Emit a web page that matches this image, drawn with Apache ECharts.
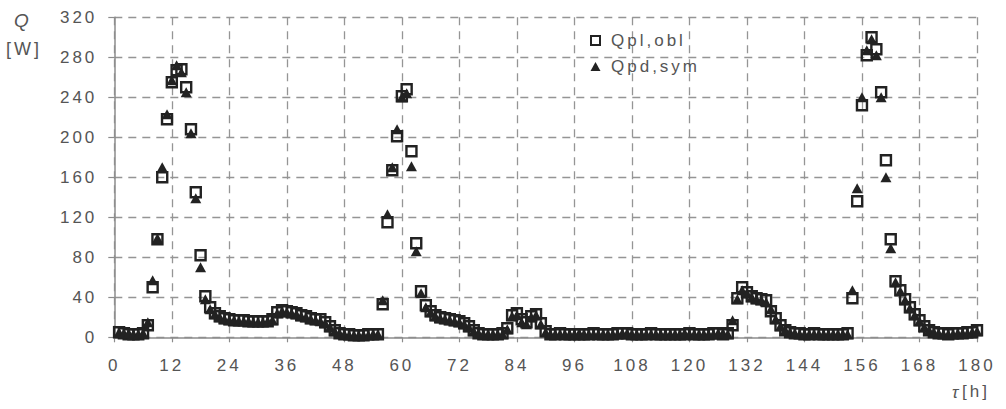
<!DOCTYPE html>
<html><head><meta charset="utf-8">
<script src="https://cdn.jsdelivr.net/npm/echarts@6/dist/echarts.min.js"></script>
<style>
html,body{margin:0;padding:0;background:#fff;}
#c{width:1006px;height:409px;}
#c text{letter-spacing:3px;}
</style></head><body><div id="c"></div>
<script>
// time [h]
const tau = [
  1,2,3,4,5,6,7,8,9,10, 11,12,13,14,15,16,17,18,19,20,
  21,22,23,24,25,26,27,28,29,30, 31,32,33,34,35,36,37,38,39,40,
  41,42,43,44,45,46,47,48,49,50, 51,52,53,54,55,56,57,58,59,60,
  61,62,63,64,65,66,67,68,69,70, 71,72,73,74,75,76,77,78,79,80,
  81,82,83,84,85,86,87,88,89,90, 91,92,93,94,95,96,97,98,99,100,
  101,102,103,104,105,106,107,108,109,110, 111,112,113,114,115,116,117,118,119,120,
  121,122,123,124,125,126,127,128,129,130, 131,132,133,134,135,136,137,138,139,140,
  141,142,143,144,145,146,147,148,149,150, 151,152,153,154,155,156,157,158,159,160,
  161,162,163,164,165,166,167,168,169,170, 171,172,173,174,175,176,177,178,179,180
];
// Qpl,obl [W]
const qPl = [
  5,4,3,3,3,4,12,50,98,160, 218,255,267,268,250,208,145,82,41,30,
  24,21,19,18,17,17,17,16,16,16, 16,16,18,25,27,26,25,24,22,21,
  19,18,18,15,11,7,4,3,3,2, 2,2,3,3,3,33,115,167,201,241,
  248,186,94,46,32,26,22,20,19,18, 17,16,14,11,7,4,3,3,3,3,
  4,9,22,24,18,15,21,23,14,6, 3,3,4,3,3,3,3,3,3,4,
  3,3,3,3,4,4,4,3,3,3, 3,4,3,3,3,3,3,3,3,4,
  3,3,3,3,4,4,3,4,12,39, 50,45,41,39,38,37,26,19,12,7,
  5,4,4,3,3,4,3,3,3,3, 3,3,4,39,136,232,282,300,288,245,
  177,98,56,47,38,30,23,17,11,7, 5,4,4,3,4,4,4,5,5,7
];
// Qpd,sym [W]
const qPd = [
  5,4,4,3,3,4,15,57,99,170, 223,257,272,265,245,204,139,70,38,28,
  23,20,18,17,17,16,16,16,15,15, 15,16,17,24,26,25,24,23,21,20,
  18,17,16,14,10,6,4,3,2,2, 2,2,2,3,3,37,123,170,208,240,
  244,171,86,44,30,25,21,19,18,17, 16,15,13,10,6,4,3,3,3,3,
  3,8,21,22,15,13,20,22,13,5, 3,3,3,3,3,3,4,3,3,3,
  3,3,3,3,3,4,4,3,3,3, 3,3,3,3,3,3,3,3,4,3,
  3,3,3,3,3,4,4,3,17,38, 47,44,40,38,37,35,28,18,11,7,
  5,4,3,3,3,3,3,3,3,3, 3,3,3,47,149,240,287,298,282,240,
  160,89,55,46,37,29,22,16,10,7, 5,4,3,3,3,4,4,4,5,6
];
const seriesNames = ['Qpl,obl', 'Qpd,sym'];

const FONT = "'Liberation Sans', Arial, sans-serif";
const TXT = '#555';
const AX = '#8c8c8c';
const MK = '#222';
const chart = echarts.init(document.getElementById('c'), null, {renderer: 'svg'});
const gridLine = {show: true, lineStyle: {type: [8, 6], color: '#959595', width: 1.3}};
chart.setOption({
  animation: false,
  backgroundColor: '#fff',
  grid: {left: 114.3, right: 29, top: 17.3, bottom: 71.7, containLabel: false},
  xAxis: {
    type: 'value', min: 0, max: 180, interval: 12,
    axisLine: {show: true, onZero: false, lineStyle: {color: AX, width: 1.5}},
    axisTick: {show: true, length: 5, lineStyle: {color: AX, width: 1.2}},
    axisLabel: {fontSize: 17, color: TXT, fontFamily: FONT, margin: 20},
    splitLine: gridLine
  },
  yAxis: {
    type: 'value', min: 0, max: 320, interval: 40,
    axisLine: {show: true, onZero: false, lineStyle: {color: AX, width: 1.5}},
    axisTick: {show: true, length: 6, lineStyle: {color: AX, width: 1.2}},
    axisLabel: {fontSize: 17, color: TXT, fontFamily: FONT, margin: 17},
    splitLine: gridLine
  },
  legend: {
    orient: 'vertical', left: 585, top: 27, itemGap: 9,
    itemWidth: 21, itemHeight: 9, symbolKeepAspect: true,
    textStyle: {fontSize: 17, color: TXT, fontFamily: FONT},
    data: [
      {name: seriesNames[0], icon: 'path://M0,0H8V8H0Z', itemStyle: {color: '#fff', borderColor: MK, borderWidth: 2}},
      {name: seriesNames[1], icon: 'path://M5,0L10,9L0,9Z', itemStyle: {color: MK, borderWidth: 0}}
    ]
  },
  graphic: [
    {type: 'text', left: 14, top: 11, style: {text: 'Q', font: "italic 19px 'Liberation Sans', Arial, sans-serif", fill: TXT}},
    {type: 'text', left: 6, top: 40, style: {text: '[W]', font: "18px 'Liberation Sans', Arial, sans-serif", fill: TXT}},
    {type: 'text', left: 952, top: 384, style: {text: 'τ', font: "italic 17px 'Liberation Sans', Arial, sans-serif", fill: TXT}},
    {type: 'text', left: 962, top: 383, style: {text: '[h]', font: "17px 'Liberation Sans', Arial, sans-serif", fill: TXT}}
  ],
  series: [
    {
      name: seriesNames[0], type: 'scatter', symbol: 'rect', symbolSize: 10,
      itemStyle: {color: 'rgba(255,255,255,0)', borderColor: MK, borderWidth: 2.4, opacity: 1},
      data: tau.map((t, i) => [t, qPl[i]]), z: 2
    },
    {
      name: seriesNames[1], type: 'scatter', symbol: 'triangle', symbolSize: [11, 10],
      itemStyle: {color: MK, opacity: 1},
      data: tau.map((t, i) => [t, qPd[i]]), z: 3
    }
  ]
});
</script></body></html>
